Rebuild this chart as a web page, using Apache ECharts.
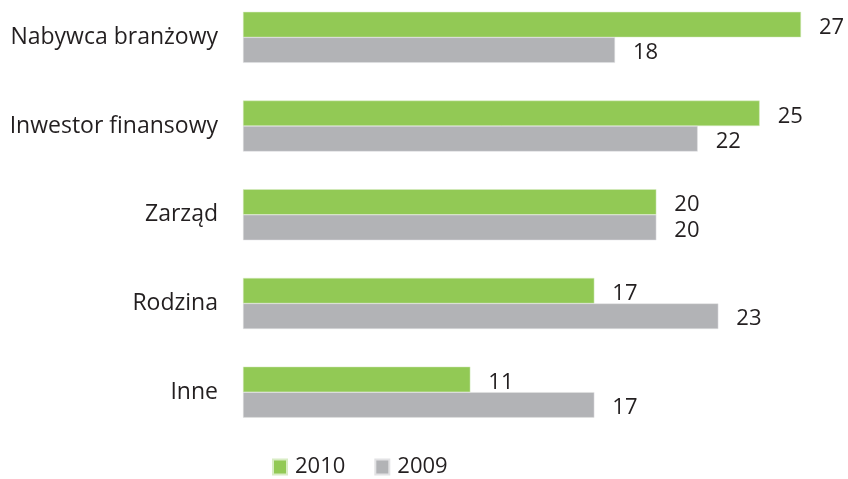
<!DOCTYPE html>
<html>
<head>
<meta charset="utf-8">
<script src="https://cdn.jsdelivr.net/npm/echarts@6/dist/echarts.min.js"></script>
<style>html,body{margin:0;padding:0;background:#fff;overflow:hidden;width:848px;height:479px}#c{position:absolute;left:0;top:-7px;width:848px;height:486px}</style>
</head>
<body>
<div id="c"></div>
<script>
const categories = ['Nabywca branżowy', 'Inwestor finansowy', 'Zarząd', 'Rodzina', 'Inne'];
const values2010 = [27, 25, 20, 17, 11];
const values2009 = [18, 22, 20, 23, 17];
const seriesNames = ['2010', '2009'];

const FONT = 'Open Sans';
const TXT = '#231f20';
const chart = echarts.init(document.getElementById('c'));
chart.setOption({
  animation: false,
  backgroundColor: '#ffffff',
  textStyle: { fontFamily: FONT },
  grid: { left: 243, width: 558, top: 0, height: 443.5, containLabel: false },
  legend: {
    data: seriesNames,
    left: 267, top: 458,
    itemWidth: 14, itemHeight: 15, itemGap: 29,
    icon: 'rect',
    textStyle: { fontFamily: FONT, fontSize: 22, color: TXT, padding: [0, 0, 0, 3] }
  },
  xAxis: {
    type: 'value', min: 0, max: 27,
    show: false
  },
  yAxis: {
    type: 'category', data: categories, inverse: true,
    axisLine: { show: false }, axisTick: { show: false },
    axisLabel: { fontFamily: FONT, fontSize: 23, color: TXT, margin: 25 }
  },
  series: [
    {
      name: seriesNames[0], type: 'bar', data: values2010,
      barWidth: 25.5, barGap: '0%',
      itemStyle: { color: '#92C955', borderColor: '#d8ecc4', borderWidth: 0.5 },
      label: { show: true, position: 'right', distance: 18, offset: [0, 3], fontFamily: FONT, fontSize: 22, color: TXT }
    },
    {
      name: seriesNames[1], type: 'bar', data: values2009,
      barWidth: 25.5, barGap: '0%',
      itemStyle: { color: '#B2B3B6', borderColor: '#e2e2e4', borderWidth: 0.5 },
      label: { show: true, position: 'right', distance: 18, offset: [0, 3], fontFamily: FONT, fontSize: 22, color: TXT }
    }
  ]
});
</script>
</body>
</html>
